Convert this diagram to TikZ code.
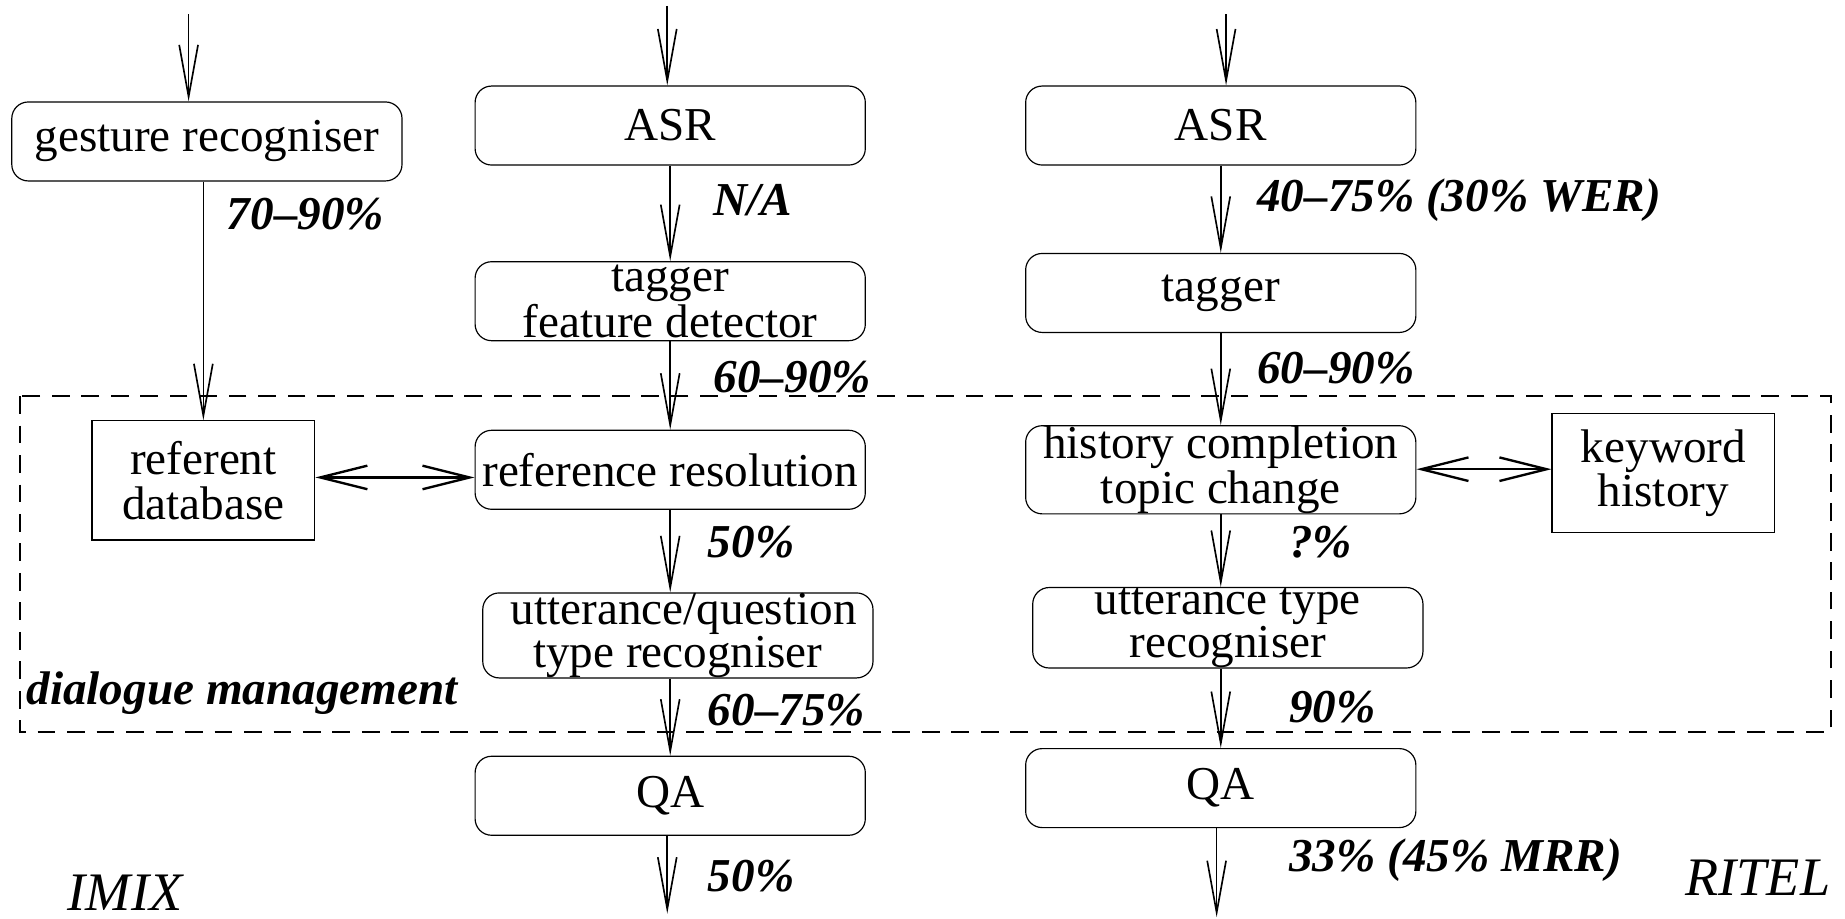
\documentclass[tikz,border=0pt]{standalone}
\usepackage{fontspec}
\setmainfont{Liberation Serif}
\usetikzlibrary{arrows.meta}

\tikzset{pb/.style={draw, rounded corners=7pt, minimum width=165.5pt, minimum height=33.5pt,
    inner sep=0pt, align=center, font=\fontsize{20}{15}\selectfont}}
\tikzset{db/.style={draw, rectangle, minimum width=94.5pt, minimum height=50.5pt,
    inner sep=0pt, align=center, font=\fontsize{20}{19}\selectfont}}
\tikzset{pct/.style={anchor=west, inner sep=0pt, font=\fontsize{20}{20}\selectfont\bfseries\itshape}}
\tikzset{sysname/.style={inner sep=0pt, font=\fontsize{23}{23}\selectfont\itshape}}
\tikzset{arr/.style={-{Straight Barb[length=22pt,width=8pt]}, line width=0.7pt}}
\tikzset{darr/.style={{Straight Barb[length=20pt,width=10pt]}-{Straight Barb[length=20pt,width=10pt]}, line width=1pt}}

\begin{document}
\begin{tikzpicture}[x=0.5pt, y=-0.5pt]
\useasboundingbox (0,0) rectangle (1565,779);
\tikzstyle{every node}=[line width=0.5pt]
% dialogue management frame
\draw[dashed, line width=1pt, dash pattern=on 7.5pt off 5pt] (17,336) rectangle (1553,621);
% IMIX
\node[pb] (gest) at (175.5,120) {gesture recogniser};
\node[pb] (asr1) at (568.5,106.5) {ASR};
\node[pb] (tag1) at (568.5,255.5) {tagger\\feature detector};
\node[pb] (ref) at (568.5,398.5) {reference resolution};
\node[pb] (utq) at (575,539) {\ utterance/question\\type recogniser};
\node[pb] (qa1) at (568.5,675) {QA};
\node[db] (rdb) at (172.5,407.5) {referent\\database};
% RITEL
\node[pb] (asr2) at (1035.5,106.5) {ASR};
\node[pb] (tag2) at (1035.5,248.5) {tagger};
\node[pb] (hist) at (1035.5,398.5) {history completion\\topic change};
\node[pb] (ut2) at (1041.5,532.5) {utterance type\\recogniser};
\node[pb] (qa2) at (1035.5,668.5) {QA};
\node[db] (kw) at (1411,401.5) {keyword\\history};
% free ends
\coordinate (in0) at (160,12);
\coordinate (in1) at (566,5);
\coordinate (in2) at (1040,12);
\coordinate (out1) at (566,775);
\coordinate (out2) at (1032,778);
% connectors
\draw[arr] (in0) -- (in0 |- gest.north);
\draw[arr] (gest.south -| rdb.north) -- (rdb.north);
\draw[arr] (in1) -- (in1 |- asr1.north);
\draw[arr] (asr1) -- (tag1);
\draw[arr] (tag1) -- (ref);
\draw[arr] (ref.south) -- (ref.south |- utq.north);
\draw[arr] (utq.south -| qa1.north) -- (qa1.north);
\draw[arr] (qa1.south -| out1) -- (out1);
\draw[darr] (rdb.east |- 0,405) -- (ref.west |- 0,405);
\draw[arr] (in2) -- (in2 |- asr2.north);
\draw[arr] (asr2) -- (tag2);
\draw[arr] (tag2) -- (hist);
\draw[arr] (hist.south) -- (hist.south |- ut2.north);
\draw[arr] (ut2.south -| qa2.north) -- (qa2.north);
\draw[arr] (qa2.south -| out2) -- (out2);
\draw[darr] (hist.east |- 0,398) -- (kw.west |- 0,398);
% rates
\node[pct] (r1) at (192,182) {70--90\%};
\node[pct] (r2) at (605,170) {N/A};
\node[pct] (r3) at (605,320) {60--90\%};
\node[pct] (r4) at (600,460) {50\%};
\node[pct] (r5) at (600,602) {60--75\%};
\node[pct] (r6) at (600,743) {50\%};
\node[pct] (r7) at (1066,170) {40--75\% (30\% WER)};
\node[pct] (r8) at (1066,312) {60--90\%};
\node[pct] (r9) at (1093,460) {?\%};
\node[pct] (r10) at (1093,600) {90\%};
\node[pct] (r11) at (1093,730) {33\% (45\% MRR)};
\node[pct] (dm) at (22,588) {dialogue management};
\node[sysname, anchor=base west] (imix) at (57,772) {IMIX};
\node[sysname, anchor=base east] (ritel) at (1553,760) {RITEL};
\end{tikzpicture}
\end{document}
